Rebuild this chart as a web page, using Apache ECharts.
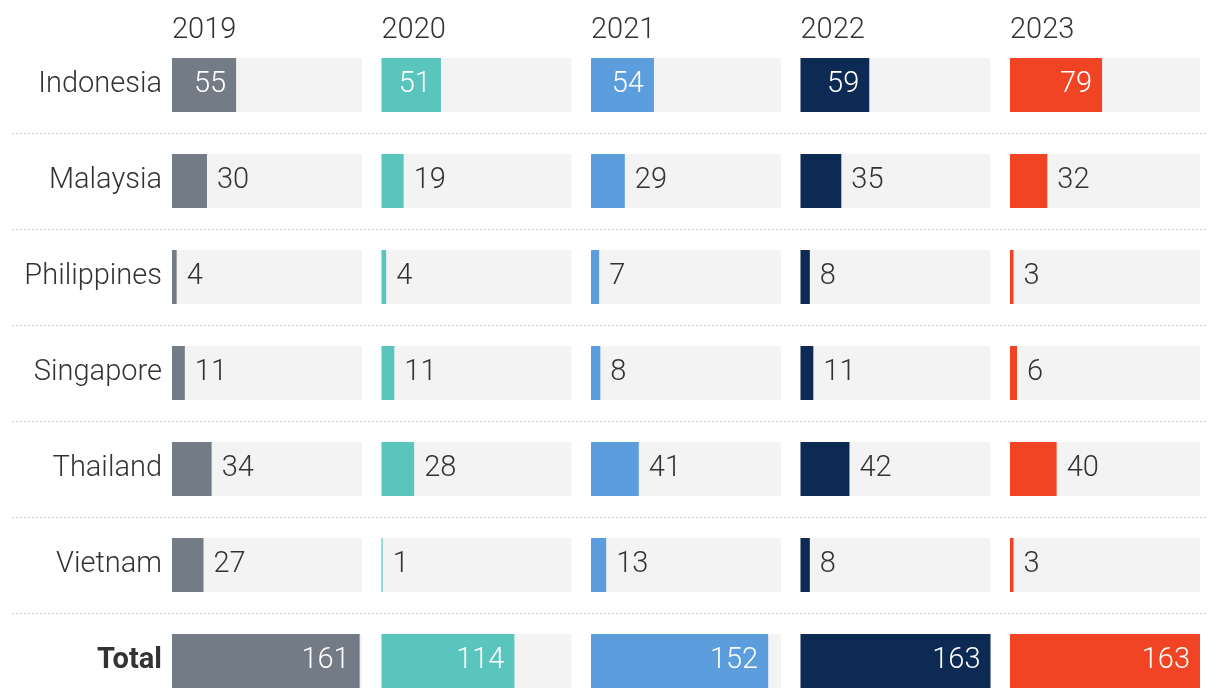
<!DOCTYPE html>
<html>
<head>
<meta charset="utf-8">
<script src="https://cdn.jsdelivr.net/npm/echarts@6/dist/echarts.min.js"></script>
<style>
html,body{margin:0;padding:0;background:#fff;}
#chart{width:1220px;height:698px;}
</style>
</head>
<body>
<div id="chart"></div>
<script>
var countries = ['Indonesia','Malaysia','Philippines','Singapore','Thailand','Vietnam','Total'];
var years = ['2019','2020','2021','2022','2023'];
var v2019 = [55,30,4,11,34,27,161];
var v2020 = [51,19,4,11,28,1,114];
var v2021 = [54,29,7,8,41,13,152];
var v2022 = [59,35,8,11,42,8,163];
var v2023 = [79,32,3,6,40,3,163];
var yearValues = [v2019, v2020, v2021, v2022, v2023];
var colors = ['#737b86','#5ac5bd','#5b9ddd','#0d2a55','#f04425'];
var scaleMax = 163;

var FONT = 'Roboto';
var FS = 29;
var FW = 300;
var TEXT = '#333333';
var colLeft = 172, colWidth = 190, colStep = 209.5;
var gridTop = 37, rowH = 96;

var grids = [{left: 12, right: 12, top: gridTop, height: rowH * countries.length, outerBoundsMode: 'none', containLabel: false}];
var xAxes = [{gridIndex: 0, type: 'value', show: false, min: 0, max: 1}];
var yAxes = [{
  gridIndex: 0, type: 'category', inverse: true, data: countries,
  axisLine: {show: false}, axisTick: {show: false}, axisLabel: {show: false},
  splitLine: {show: true, showMinLine: false, showMaxLine: false,
    lineStyle: {color: '#cfcfcf', width: 1, type: [2, 2]}}
}];
var titles = [];
var series = [];

years.forEach(function (yr, i) {
  var gi = i + 1;
  var left = colLeft + i * colStep;
  grids.push({left: left, width: colWidth, top: gridTop, height: rowH * countries.length, outerBoundsMode: 'none', containLabel: false});
  xAxes.push({gridIndex: gi, type: 'value', min: 0, max: scaleMax, show: false});
  yAxes.push({
    gridIndex: gi, type: 'category', inverse: true, data: countries,
    axisLine: {show: false}, axisTick: {show: false}, splitLine: {show: false},
    axisLabel: {
      show: i === 0, margin: 10, fontFamily: FONT, fontSize: FS, fontWeight: FW, color: TEXT,
      formatter: function (v) { return v === 'Total' ? '{b|' + v + '}' : v; },
      rich: {b: {fontFamily: FONT, fontSize: FS, fontWeight: 'bold', color: TEXT}}
    }
  });
  titles.push({
    text: yr, left: left, top: 16, padding: 0,
    textStyle: {fontFamily: FONT, fontSize: FS, fontWeight: FW, color: TEXT}
  });
  var data = yearValues[i].map(function (v) {
    var inside = v >= 50;
    return {
      value: v,
      label: {
        position: inside ? 'insideRight' : 'right',
        color: inside ? '#ffffff' : TEXT
      }
    };
  });
  series.push({
    type: 'bar', xAxisIndex: gi, yAxisIndex: gi, data: data,
    barWidth: 54, silent: true, clip: false,
    itemStyle: {color: colors[i]},
    showBackground: true,
    backgroundStyle: {color: '#f3f3f3'},
    label: {show: true, distance: 10, fontFamily: FONT, fontSize: FS, fontWeight: FW},
    animation: false
  });
});

var chart = echarts.init(document.getElementById('chart'));
chart.setOption({
  animation: false,
  title: titles,
  grid: grids,
  xAxis: xAxes,
  yAxis: yAxes,
  series: series
});
</script>
</body>
</html>
